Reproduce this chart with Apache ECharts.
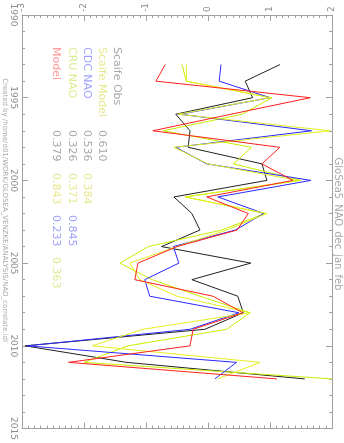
<!DOCTYPE html>
<html>
<head>
<meta charset="utf-8">
<script src="https://cdn.jsdelivr.net/npm/echarts@6/dist/echarts.min.js"></script>
<style>html,body{margin:0;padding:0;background:#fff}#c{width:344px;height:443px}</style>
</head>
<body>
<div id="c"></div>
<script>
const years = [1993,1994,1995,1996,1997,1998,1999,2000,2001,2002,2003,2004,2005,2006,2007,2008,2009,2010,2011,2012];
const scaifeObs   = [1.16,0.60,0.72,-0.52,-0.29,-0.32,0.87,0.95,-0.55,-0.26,-0.13,-0.75,0.69,-0.26,0.48,0.57,-0.05,-2.95,-1.31,1.56];
const scaifeModel = [-0.42,-0.35,1.03,0.55,-0.72,0.70,0.41,1.50,-0.37,0.92,0.22,-0.96,-1.42,-0.90,-0.13,0.68,0.30,-1.29,-2.00,2.00];
const cdcNao      = [0.21,0.18,1.00,-0.45,1.67,-0.52,-0.02,1.66,0.16,0.90,0.44,-0.56,-0.47,-1.02,-0.94,0.50,-0.29,-2.92,0.46,0.11];
const cruNao      = [-0.35,-0.35,1.00,-0.48,1.97,-0.55,0.00,1.45,-0.37,0.95,0.30,-0.50,-1.26,-1.10,-0.50,0.68,-1.05,-1.87,0.84,0.16];
const model       = [-0.69,-0.84,1.65,0.37,-0.89,1.16,0.87,1.37,-0.02,0.65,0.47,-0.50,-1.13,-1.18,0.08,0.56,-0.24,-0.29,-2.25,1.11];
const seriesNames = ['Scaife Obs','Scaife Model','CDC NAO','CRU NAO','Model'];
const corrRows = [[],['0.610'],['0.536','0.384'],['0.326','0.371','0.845'],['0.379','0.843','0.233','0.363']];
const title = 'GloSea5_NAO_dec_jan_feb';
const credit = 'Created by /home/d01/WORK/GLOSEA_VENZKE/ANALYSIS/NAO_correlate.idl';

const lineColors = ['#222222','#c8f000','#2a2aff','#e4f020','#ff2020'];
const textColors = ['#a8a8a8','#e8e890','#a0a0ff','#d8ee90','#ff9a9a'];
const allData = [scaifeObs, scaifeModel, cdcNao, cruNao, model];

const chart = echarts.init(document.getElementById('c'));
const axisGray = '#a0a0a0';
const font = 'DejaVu Sans';

function valueAxisX(pos, showLabel){
  return {type:'value', position:pos, min:-3, max:2, interval:1,
    axisLine:{show:true, onZero:false, lineStyle:{color:axisGray, width:1}},
    axisTick:{show:true, inside:true, length:6, lineStyle:{color:axisGray}},
    minorTick:{show:true, splitNumber:10, length:3, lineStyle:{color:axisGray}},
    splitLine:{show:false},
    axisLabel:{show:showLabel, rotate:-90, color:'#8c8c8c', fontSize:9, fontFamily:font, margin:3,
      showMinLabel:true, showMaxLabel:true, hideOverlap:false, formatter:v=>String(v)}};
}
function yearAxis(pos, showLabel){
  return {type:'value', position:pos, min:1990, max:2015, interval:5, inverse:true,
    axisLine:{show:true, onZero:false, lineStyle:{color:axisGray, width:1}},
    axisTick:{show:true, inside:true, length:6, lineStyle:{color:axisGray}},
    minorTick:{show:true, splitNumber:5, length:3, lineStyle:{color:axisGray}},
    splitLine:{show:false},
    axisLabel:{show:showLabel, rotate:-90, color:'#8c8c8c', fontSize:9, fontFamily:font, margin:4,
      showMinLabel:true, showMaxLabel:true, hideOverlap:false, formatter:v=>String(v)}};
}

const graphics = [];
const rowX = [117,102,87,72,56];
const colY = [130,173,215,257];
for (let r=0;r<5;r++){
  graphics.push({type:'text', x:rowX[r], y:47, rotation:-Math.PI/2,
    style:{text:seriesNames[r], fill:textColors[r], font:'11px '+font, textAlign:'left', textVerticalAlign:'middle'}});
  corrRows[r].forEach((v,c)=>{
    graphics.push({type:'text', x:rowX[r], y:colY[c], rotation:-Math.PI/2,
      style:{text:v, fill:textColors[c], font:'11px '+font, textAlign:'left', textVerticalAlign:'middle'}});
  });
}
graphics.push({type:'text', x:338, y:224, rotation:-Math.PI/2,
  style:{text:title, fill:'#a8a8a8', font:'10px '+font, textAlign:'center', textVerticalAlign:'middle'}});
graphics.push({type:'text', x:5, y:210, rotation:-Math.PI/2,
  style:{text:credit, fill:'#a8a8a8', font:'7px '+font, textAlign:'center', textVerticalAlign:'middle'}});

chart.setOption({
  animation:false,
  backgroundColor:'#fff',
  grid:{left:22, right:12, top:14, bottom:10, show:false},
  xAxis:[valueAxisX('top', true), valueAxisX('bottom', false)],
  yAxis:[yearAxis('left', true), yearAxis('right', false)],
  series: allData.map((d,i)=>({
    name:seriesNames[i], type:'line', xAxisIndex:0, yAxisIndex:0,
    data: years.map((y,k)=>[d[k], y]),
    showSymbol:false, symbol:'none', clip:true,
    lineStyle:{color:lineColors[i], width:1},
    itemStyle:{color:lineColors[i]}
  })),
  graphic: graphics
});
</script>
</body>
</html>
